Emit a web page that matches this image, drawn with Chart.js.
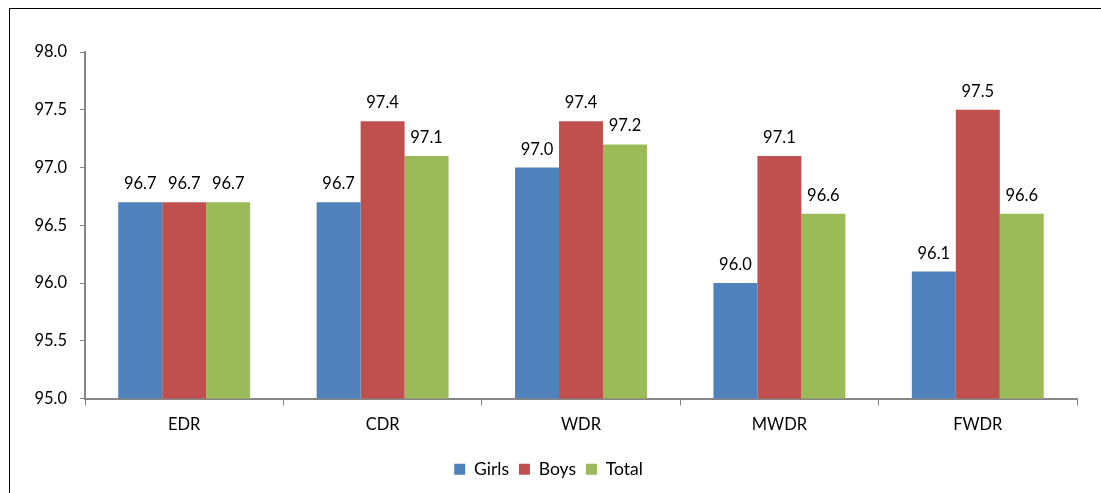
<!DOCTYPE html>
<html>
<head>
<meta charset="utf-8">
<script src="https://cdn.jsdelivr.net/npm/chart.js@4/dist/chart.umd.min.js"></script>
<style>
  html, body { margin: 0; padding: 0; background: #fff; }
  #wrap { width: 1101px; height: 493px; position: relative; }
</style>
</head>
<body>
<div id="wrap"><canvas id="rateChart"></canvas></div>
<script>
const categories = ['EDR', 'CDR', 'WDR', 'MWDR', 'FWDR'];
const girls = [96.7, 96.7, 97.0, 96.0, 96.1];
const boys = [96.7, 97.4, 97.4, 97.1, 97.5];
const total = [96.7, 97.1, 97.2, 96.6, 96.6];
const yTicks = [95.0, 95.5, 96.0, 96.5, 97.0, 97.5, 98.0];

Chart.defaults.font.family = "Lato, 'Open Sans', sans-serif";
Chart.defaults.font.size = 16.5;
Chart.defaults.color = '#000';

// outer frame, cut off at the right and bottom
const framePlugin = {
    id: 'frame',
    beforeDraw(chart) {
        const ctx = chart.ctx;
        ctx.save();
        ctx.fillStyle = '#fff';
        ctx.fillRect(0, 0, chart.width, chart.height);
        ctx.strokeStyle = '#000';
        ctx.lineWidth = 1;
        ctx.strokeRect(9.5, 8.5, 1200, 600);
        ctx.restore();
    }
};

// value labels above each bar
const valueLabels = {
    id: 'valueLabels',
    afterDatasetsDraw(chart) {
        const ctx = chart.ctx;
        ctx.save();
        ctx.font = "16.5px Lato, 'Open Sans', sans-serif";
        ctx.fillStyle = '#000';
        ctx.textAlign = 'center';
        ctx.textBaseline = 'bottom';
        chart.data.datasets.forEach((ds, i) => {
            chart.getDatasetMeta(i).data.forEach((bar, j) => {
                ctx.fillText(ds.data[j].toFixed(1), bar.x, bar.y - 10);
            });
        });
        ctx.restore();
    }
};

const ctx = document.getElementById('rateChart').getContext('2d');
const rateChart = new Chart(ctx, {
    type: 'bar',
    data: {
        labels: categories,
        datasets: [
            { label: 'Girls', data: girls, backgroundColor: '#4F81BD' },
            { label: 'Boys', data: boys, backgroundColor: '#C0504D' },
            { label: 'Total', data: total, backgroundColor: '#9BBB59' }
        ]
    },
    options: {
        responsive: true,
        maintainAspectRatio: false,
        animation: false,
        categoryPercentage: 0.665,
        barPercentage: 1.0,
        layout: { padding: { left: 20, right: 24, top: 52, bottom: 5 } },
        plugins: {
            legend: {
                position: 'bottom',
                labels: {
                    boxWidth: 11,
                    boxHeight: 11,
                    padding: 10,
                    font: { size: 17.5 }
                }
            },
            tooltip: { enabled: false }
        },
        scales: {
            x: {
                grid: {
                    drawOnChartArea: false,
                    color: '#868686',
                    tickLength: 7
                },
                border: { color: '#868686', width: 2 },
                ticks: { padding: 9, font: { size: 16.5 } },
                afterFit(scale) { scale.height = 52; }
            },
            y: {
                min: 95,
                max: 98,
                grid: {
                    drawOnChartArea: false,
                    color: '#868686',
                    tickLength: 5
                },
                border: { color: '#868686', width: 2 },
                ticks: {
                    stepSize: 0.5,
                    padding: 13,
                    font: { size: 16.5 },
                    callback: v => yTicks.includes(v) ? v.toFixed(1) : ''
                },
                afterFit(scale) { scale.width = 65; }
            }
        }
    },
    plugins: [framePlugin, valueLabels]
});
</script>
</body>
</html>
